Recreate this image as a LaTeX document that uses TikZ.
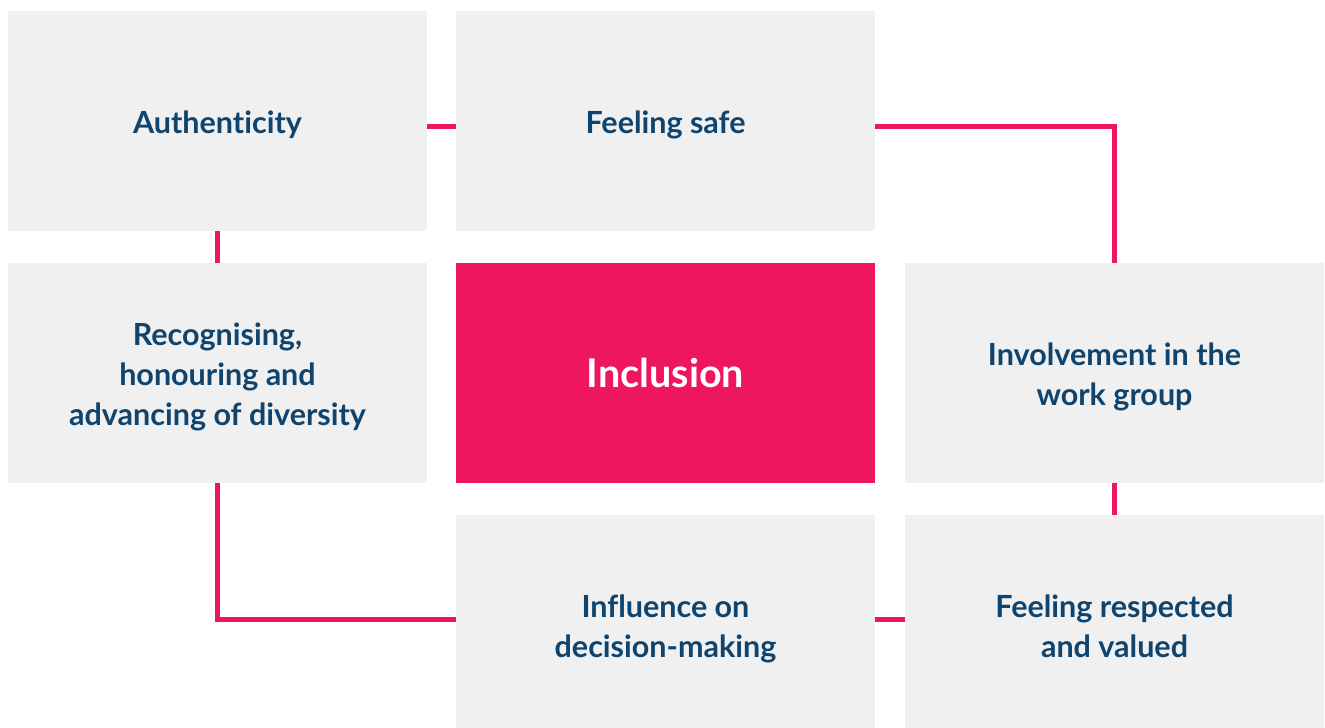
\documentclass[tikz,border=0pt]{standalone}
\usepackage{fontspec}
\setmainfont{Lato}[Ligatures={NoCommon}]
\definecolor{boxgray}{HTML}{F0F0F0}
\definecolor{accent}{HTML}{EE1660}
\definecolor{ink}{RGB}{14,68,110}
% centred lines of a tile; extra room above sets them a little below the tile's middle
\newcommand{\tilelines}[1]{\raisebox{0pt}[\dimexpr\height+9pt\relax]{\begin{tabular}{@{}c@{}}#1\end{tabular}}}
\begin{document}
\begin{tikzpicture}[x=1pt,y=-1pt,
  tile/.style={fill=boxgray, draw=none, minimum width=419pt, minimum height=220pt,
    inner sep=0pt, text=ink,
    font=\bfseries\fontsize{30.5}{40}\selectfont},
  core/.style={tile, fill=accent, text=white, font=\bfseries\fontsize{39.5}{44}\selectfont},
  link/.style={draw=accent, line width=5pt}]
  \fill[white] (0,0) rectangle (1325,728);
  \useasboundingbox (0,0) rectangle (1325,728);
  \begin{scope}
    \clip (0,0) rectangle (1325,728);
    % tiles of the grid
    \node[tile] (auth) at (217.5,121) {\tilelines{Authenticity}};
    \node[tile] (safe) at (665.5,121) {\tilelines{Feeling safe}};
    \node[tile] (rec)  at (217.5,373) {\tilelines{Recognising,\\honouring and\\advancing of diversity}};
    \node[core] (incl) at (665.5,373) {Inclusion};
    \node[tile] (inv)  at (1114.5,373) {\tilelines{Involvement in the\\work group}};
    \node[tile] (infl) at (665.5,625) {\tilelines{Influence on\\decision-making}};
    \node[tile] (resp) at (1114.5,625) {\tilelines{Feeling respected\\and valued}};
  \end{scope}
  % connectors between tiles
  \draw[link] ([yshift=-5pt]auth.east) -- ([yshift=-5pt]safe.west);
  \draw[link] ([yshift=-5pt]safe.east) -| (inv.north);
  \draw[link] (auth.south) -- (rec.north);
  \draw[link] (inv.south) -- (resp.north);
  \draw[link] (rec.south) |- ([yshift=6pt]infl.west);
  \draw[link] ([yshift=6pt]infl.east) -- ([yshift=6pt]resp.west);
\end{tikzpicture}
\end{document}
